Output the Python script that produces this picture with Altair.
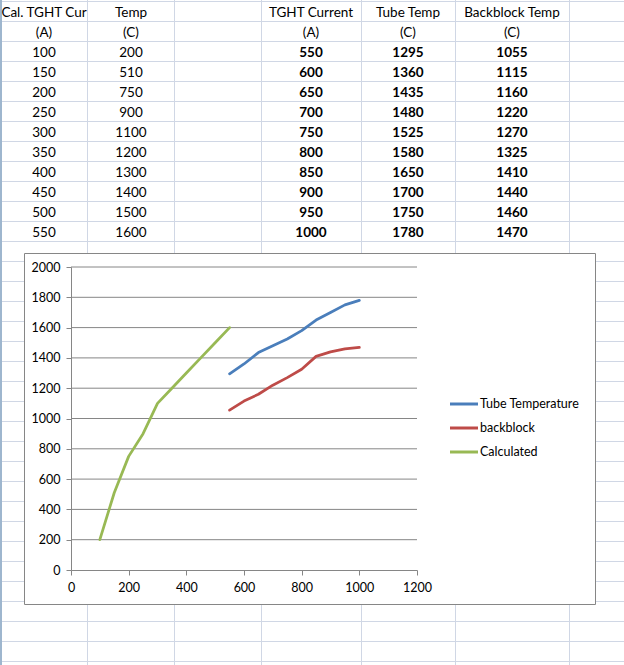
import altair as alt
import pandas as pd

# ---------------- data ----------------
cal_current = [100, 150, 200, 250, 300, 350, 400, 450, 500, 550]
cal_temp = [200, 510, 750, 900, 1100, 1200, 1300, 1400, 1500, 1600]
tght_current = [550, 600, 650, 700, 750, 800, 850, 900, 950, 1000]
tube_temp = [1295, 1360, 1435, 1480, 1525, 1580, 1650, 1700, 1750, 1780]
backblock_temp = [1055, 1115, 1160, 1220, 1270, 1325, 1410, 1440, 1460, 1470]

table_titles = ["Cal. TGHT Cur", "Temp", "TGHT Current", "Tube Temp", "Backblock Temp"]
table_units = ["(A)", "(C)", "(A)", "(C)", "(C)"]
series_names = ["Tube Temperature", "backblock", "Calculated"]
x_ticks = [0, 200, 400, 600, 800, 1000, 1200]
y_ticks = [0, 200, 400, 600, 800, 1000, 1200, 1400, 1600, 1800, 2000]

# ---------------- layout / style ----------------
PAGE_W, PAGE_H = 624, 665
PLOT_L, PLOT_T, PLOT_R, PLOT_B = 71, 267, 417, 570
FRAME_L, FRAME_T, FRAME_R, FRAME_B = 24.5, 253.5, 595.5, 604.5
COL_EDGES = [87.5, 174.5, 261.5, 361.5, 455.5, 569.5]
COL_CENTERS = [44, 131, 311, 408, 512]
ROW_LINE0, ROW_H, N_ROW_LINES = 1.5, 20, 34
TEXT_ROW0 = 12.5
LEG_X0, LEG_X1, LEG_TX, LEG_Y0, LEG_DY = 450, 478, 480, 404, 24
SERIES_COLORS = ["#4A7EBB", "#BE4B48", "#98B954"]
SHEET_GRID = "#D0D7E5"
SHEET_EDGE = "#9EB6CE"
AXIS_COLOR = "#868686"
FONT = "Lato"
TABLE_FS = 13.5
AXIS_FS = 12.5
LEG_FS = 12.5

px = alt.Scale(domain=[PLOT_L, PLOT_R], nice=False, zero=False)
py = alt.Scale(domain=[PLOT_B, PLOT_T], nice=False, zero=False)
xs = alt.Scale(domain=[x_ticks[0], x_ticks[-1]], nice=False, zero=False)
ys = alt.Scale(domain=[y_ticks[0], y_ticks[-1]], nice=False, zero=False)
color_scale = alt.Scale(domain=series_names, range=SERIES_COLORS)

# ---------------- spreadsheet grid ----------------
vgrid = pd.DataFrame({"x": COL_EDGES, "y0": 0, "y1": PAGE_H})
hgrid = pd.DataFrame({"y": [ROW_LINE0 + ROW_H * k for k in range(N_ROW_LINES)],
                      "x0": 0, "x1": PAGE_W})
edge = pd.DataFrame({"x": [1.0], "y0": [0], "y1": [PAGE_H]})

vgrid_layer = alt.Chart(vgrid).mark_rule(color=SHEET_GRID, strokeWidth=1).encode(
    x=alt.X("x:Q", scale=px, axis=None),
    y=alt.Y("y0:Q", scale=py, axis=None), y2="y1:Q")
hgrid_layer = alt.Chart(hgrid).mark_rule(color=SHEET_GRID, strokeWidth=1).encode(
    x=alt.X("x0:Q", scale=px, axis=None), x2="x1:Q",
    y=alt.Y("y:Q", scale=py, axis=None))
edge_layer = alt.Chart(edge).mark_rule(color=SHEET_EDGE, strokeWidth=2).encode(
    x=alt.X("x:Q", scale=px, axis=None),
    y=alt.Y("y0:Q", scale=py, axis=None), y2="y1:Q")

# ---------------- table text ----------------
normal_rows, bold_rows = [], []
for c in range(5):
    normal_rows.append({"x": COL_CENTERS[c], "y": TEXT_ROW0, "t": table_titles[c]})
    normal_rows.append({"x": COL_CENTERS[c], "y": TEXT_ROW0 + ROW_H, "t": table_units[c]})
cols = [cal_current, cal_temp, tght_current, tube_temp, backblock_temp]
for c, vals in enumerate(cols):
    for i, v in enumerate(vals):
        row = {"x": COL_CENTERS[c], "y": TEXT_ROW0 + ROW_H * (i + 2), "t": str(v)}
        (normal_rows if c < 2 else bold_rows).append(row)

text_normal = alt.Chart(pd.DataFrame(normal_rows)).mark_text(
    font=FONT, fontSize=TABLE_FS, color="black", align="center", baseline="middle").encode(
    x=alt.X("x:Q", scale=px, axis=None), y=alt.Y("y:Q", scale=py, axis=None), text="t:N")
text_bold = alt.Chart(pd.DataFrame(bold_rows)).mark_text(
    font=FONT, fontSize=TABLE_FS, fontWeight="bold", color="black", align="center",
    baseline="middle").encode(
    x=alt.X("x:Q", scale=px, axis=None), y=alt.Y("y:Q", scale=py, axis=None), text="t:N")

# ---------------- chart frame ----------------
frame = pd.DataFrame({"x0": [FRAME_L], "x1": [FRAME_R], "y0": [FRAME_T], "y1": [FRAME_B]})
frame_layer = alt.Chart(frame).mark_rect(fill="white", stroke=AXIS_COLOR, strokeWidth=1).encode(
    x=alt.X("x0:Q", scale=px, axis=None), x2="x1:Q",
    y=alt.Y("y0:Q", scale=py, axis=None), y2="y1:Q")

# ---------------- plot gridlines ----------------
grid = pd.DataFrame({"y": y_ticks[1:], "x0": x_ticks[0], "x1": x_ticks[-1]})
grid_layer = alt.Chart(grid).mark_rule(color=AXIS_COLOR, strokeWidth=1).encode(
    x=alt.X("x0:Q", scale=xs, axis=None), x2="x1:Q",
    y=alt.Y("y:Q", scale=ys, axis=None))

# ---------------- series lines ----------------
rows = []
for x, y in zip(tght_current, tube_temp):
    rows.append({"current": x, "temp": y, "series": series_names[0]})
for x, y in zip(tght_current, backblock_temp):
    rows.append({"current": x, "temp": y, "series": series_names[1]})
for x, y in zip(cal_current, cal_temp):
    rows.append({"current": x, "temp": y, "series": series_names[2]})
lines_df = pd.DataFrame(rows)

axis_common = dict(grid=False, domainColor=AXIS_COLOR, tickColor=AXIS_COLOR, tickSize=5,
                   labelFont=FONT, labelFontSize=AXIS_FS, labelColor="black", title=None,
                   zindex=1, labelOverlap=False, labelFlush=False, format="d")

lines_layer = alt.Chart(lines_df).mark_line(strokeWidth=2.75, strokeJoin="round",
                                            strokeCap="round").encode(
    x=alt.X("current:Q", scale=xs,
            axis=alt.Axis(values=x_ticks, labelPadding=6, labelAngle=0, **axis_common)),
    y=alt.Y("temp:Q", scale=ys,
            axis=alt.Axis(values=y_ticks, labelPadding=6, **axis_common)),
    color=alt.Color("series:N", scale=color_scale, legend=None),
    detail="series:N")

# ---------------- legend ----------------
leg = pd.DataFrame({"series": series_names,
                    "y": [LEG_Y0 + LEG_DY * i for i in range(len(series_names))],
                    "x0": LEG_X0, "x1": LEG_X1, "tx": LEG_TX})
leg_lines = alt.Chart(leg).mark_rule(strokeWidth=3).encode(
    x=alt.X("x0:Q", scale=px, axis=None), x2="x1:Q",
    y=alt.Y("y:Q", scale=py, axis=None),
    color=alt.Color("series:N", scale=color_scale, legend=None))
leg_text = alt.Chart(leg).mark_text(font=FONT, fontSize=LEG_FS, color="black", align="left",
                                    baseline="middle").encode(
    x=alt.X("tx:Q", scale=px, axis=None), y=alt.Y("y:Q", scale=py, axis=None),
    text="series:N")

chart = alt.layer(
    vgrid_layer, hgrid_layer, edge_layer, text_normal, text_bold, frame_layer,
    grid_layer, lines_layer, leg_lines, leg_text
).resolve_scale(x="independent", y="independent").properties(
    width=PLOT_R - PLOT_L, height=PLOT_B - PLOT_T,
    autosize=alt.AutoSizeParams(type="none"),
    padding={"left": PLOT_L, "top": PLOT_T, "right": PAGE_W - PLOT_R, "bottom": PAGE_H - PLOT_B},
    background="white",
).configure_view(stroke=None)

chart.save("out.html", embed_options={"renderer": "svg", "actions": False})
